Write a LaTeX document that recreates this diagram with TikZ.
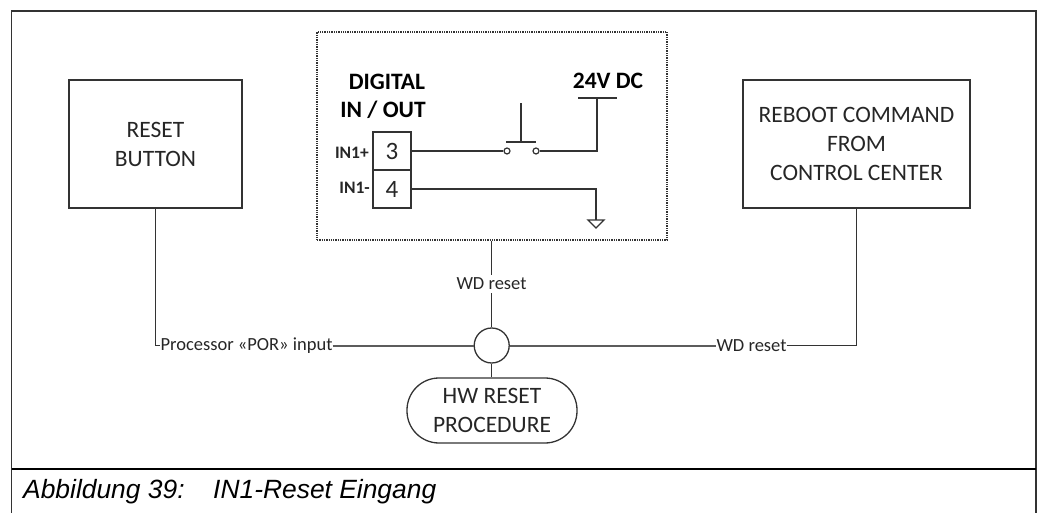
\documentclass[tikz,border=0pt]{standalone}
\usepackage{fontspec}
\setmainfont{Carlito}
\newfontfamily\capfont{Liberation Sans}
\definecolor{ink}{gray}{0.2}
\definecolor{txt}{gray}{0.15}
\tikzset{
  box/.style={draw=ink,line width=1.5pt,rectangle,inner sep=0pt,align=center,text=txt,font=\fontsize{23.5}{29}\selectfont},
  term/.style={draw=ink,line width=1.3pt,rectangle,inner sep=0pt,minimum width=38pt,minimum height=38pt,text=txt,font=\fontsize{25}{28}\selectfont},
  lab/.style={inner sep=0pt,text=txt,font=\fontsize{18.5}{22}\selectfont},
  bold/.style={inner sep=0pt,text=black,align=center,font=\fontsize{23.5}{28}\selectfont\bfseries},
  pin/.style={inner sep=0pt,text=txt,font=\fontsize{17.5}{20}\selectfont\bfseries},
  wire/.style={draw=ink,line width=1.4pt},
  thick wire/.style={draw=ink!80,line width=2pt},
  contact/.style={circle,draw=ink,line width=1.2pt,inner sep=0pt,minimum size=6pt},
  capt/.style={anchor=base west,inner sep=0pt,font=\capfont\itshape\fontsize{26.4}{30}\selectfont},
}
\begin{document}
\begin{tikzpicture}[x=1pt,y=-1pt]
\useasboundingbox (0,0) rectangle (1037,513);
% outer frame
\coordinate (fbl) at (11.5,513);
\coordinate (ftl) at (11.5,11);
\coordinate (ftr) at (1036,11);
\coordinate (fbr) at (1036,513);
\coordinate (sl) at (11.5,469);
\coordinate (sr) at (1036,469);
\draw[draw=ink,line width=1.3pt] (fbl) -- (ftl) -- (ftr) -- (fbr);
\draw[black,line width=1.3pt] (sl) -- (sr);
\node[capt] (cap1) at (23,498) {Abbildung 39:};
\node[capt] (cap2) at (213,498) {IN1-Reset Eingang};
% main blocks
\node[box,minimum width=173pt,minimum height=128pt] (reset) at (155.5,144) {RESET\\BUTTON};
\node[box,minimum width=227pt,minimum height=128pt] (reboot) at (856.5,144) {REBOOT COMMAND\\FROM\\CONTROL CENTER};
\node[draw=ink,line width=1.3pt,densely dotted,rectangle,minimum width=350pt,minimum height=208pt,inner sep=0pt] (io) at (492,136) {};
\node[circle,draw=ink,line width=1.3pt,minimum size=35pt,inner sep=0pt] (join) at (491.7,345.5) {};
\node[box,line width=1.3pt,rounded corners=32pt,minimum width=170pt,minimum height=65pt] (hw) at (492,410.5) {HW RESET\\PROCEDURE};
% in box
\node[bold] (dig) at (387,82) {DIGITAL};
\node[bold] (dig2) at (383,110) {IN / OUT};
\node[bold] (dc) at (608,81) {24V DC};
\node[term] (t3) at (392,151) {3};
\node[term] (t4) at (392,189) {4};
\node[pin,anchor=east] (p3) at (369,153) {IN1+};
\node[pin,anchor=east] (p4) at (370,188) {IN1-};
\node[contact] (c1) at (507,151) {};
\node[contact] (c2) at (536,151) {};
\coordinate (btl) at (506,142);
\coordinate (btr) at (536,142);
\coordinate (btm) at (521,142);
\coordinate (btt) at (521,103);
\coordinate (dcc) at (597,151);
\coordinate (dct) at (597,98);
\coordinate (dcl) at (578,98);
\coordinate (dcr) at (617,98);
\coordinate (gc) at (596,189);
\coordinate (gt) at (596,220);
\coordinate (gl) at (588,220);
\coordinate (gr) at (604,220);
\coordinate (ga) at (596,228);
\draw[wire] (t3.east) -- (c1.west);
\draw[wire] (c2.east) -- (dcc) -- (dct);
\draw[wire] (dcl) -- (dcr);
\draw[wire] (btl) -- (btr);
\draw[wire] (btm) -- (btt);
\draw[wire] (t4.east) -- (gc) -- (gt);
\draw[wire] (gl) -- (gr) -- (ga) -- cycle;
% labels on connectors
\node[lab] (lpor) at (246.5,345.5) {Processor «POR» input};
\node[lab] (lwd1) at (491.5,284) {WD reset};
\node[lab] (lwd2) at (751.5,345.5) {WD reset};
\coordinate (rc) at (reset.south |- lpor);
\coordinate (bc) at (reboot.south |- lwd2);
% connectors
\draw[wire] (reset.south) -- (rc) -- (lpor.west);
\draw[thick wire] (lpor.east) -- (join.west);
\draw[thick wire] (join.east) -- (lwd2.west);
\draw[wire] (lwd2.east) -- (bc) -- (reboot.south);
\draw[wire] (io.south -| join) -- ([yshift=3pt]lwd1.north -| join);
\draw[wire] ([yshift=-3pt]lwd1.south -| join) -- (join.north);
\draw[wire] (join.south) -- (hw.north -| join);
\end{tikzpicture}
\end{document}
